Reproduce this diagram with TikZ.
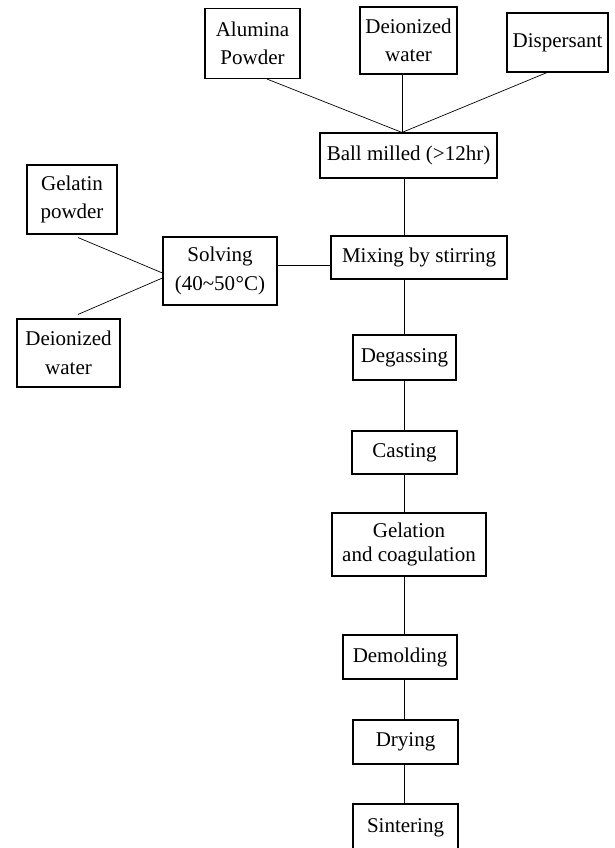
\documentclass[tikz,border=0pt]{standalone}
\usepackage{fontspec}
\setmainfont{Liberation Serif}
\usetikzlibrary{calc}
\begin{document}
\begin{tikzpicture}[x=1pt,y=-1pt,
  box/.style={draw, line width=1.1pt, inner sep=0pt, align=center,
    font=\fontsize{21}{28.5}\selectfont},
  conn/.style={line width=0.7pt}]
\useasboundingbox[fill=white] (0,0) rectangle (615,848);
\coordinate (sp) at (404,0);
% top inputs
\node[box, minimum width=95pt, minimum height=70pt] (alu) at (252.5,43.5) {Alumina\\Powder};
\node[box, minimum width=97pt, minimum height=67pt] (dw1) at (408.5,40.5) {Deionized\\water};
\node[box, minimum width=101pt, minimum height=59pt] (disp) at (557.5,42.5) {Dispersant};
\node[box, minimum width=177pt, minimum height=45pt] (ball) at (408.5,155.5) {Ball milled (>12hr)};
% left inputs
\node[box, minimum width=90pt, minimum height=69pt] (gel) at (72,199.5) {Gelatin\\powder};
\node[box, minimum width=103pt, minimum height=68pt] (dw2) at (68.5,353) {Deionized\\water};
\node[box, minimum width=114pt, minimum height=68pt] (solv) at (220,271) {Solving\\(40\textasciitilde50\kern0.5pt°C)};
% main chain
\node[box, minimum width=176pt, minimum height=43pt] (mix) at (419,257.5) {Mixing by stirring};
\node[box, minimum width=103pt, minimum height=45pt] (deg) at (404.5,357.5) {Degassing};
\node[box, minimum width=105pt, minimum height=43pt] (cast) at (404.5,452.5) {Casting};
\node[box, minimum width=154pt, minimum height=63pt, font=\fontsize{21}{24.5}\selectfont] (gela) at (409,544.5) {Gelation\\and coagulation};
\node[box, minimum width=114pt, minimum height=44pt] (demo) at (400,657) {Demolding};
\node[box, minimum width=105pt, minimum height=44pt] (dry) at (405.5,742) {Drying};
\node[box, minimum width=105pt, minimum height=48pt] (sint) at (405.5,828) {Sintering};
% connectors into ball mill
\draw[conn] ($(alu.south)+(14.5,0)$) -- ($(ball.north)+(-6.5,0)$);
\draw[conn] ($(dw1.south)+(-6.5,0)$) -- ($(ball.north)+(-6.5,0)$);
\draw[conn] ($(disp.south)+(-10.5,0)$) -- ($(ball.north)+(-6.5,0)$);
% left connectors
\draw[conn] ($(gel.south)+(6,3)$) -- ($(solv.west)+(0,2)$);
\draw[conn] ($(dw2.north)+(9.5,-4)$) -- ($(solv.west)+(0,7)$);
\draw[conn] ($(solv.east)+(0,-6)$) -- ($(mix.west)+(0,7.5)$);
% main chain connectors
\draw[conn] (ball.south -| sp) -- (mix.north -| sp);
\draw[conn] (mix.south -| sp) -- (deg.north -| sp);
\draw[conn] (deg.south -| sp) -- (cast.north -| sp);
\draw[conn] (cast.south -| sp) -- (gela.north -| sp);
\draw[conn] (gela.south -| sp) -- (demo.north -| sp);
\draw[conn] (demo.south -| sp) -- (dry.north -| sp);
\draw[conn] (dry.south -| sp) -- (sint.north -| sp);
\end{tikzpicture}
\end{document}
